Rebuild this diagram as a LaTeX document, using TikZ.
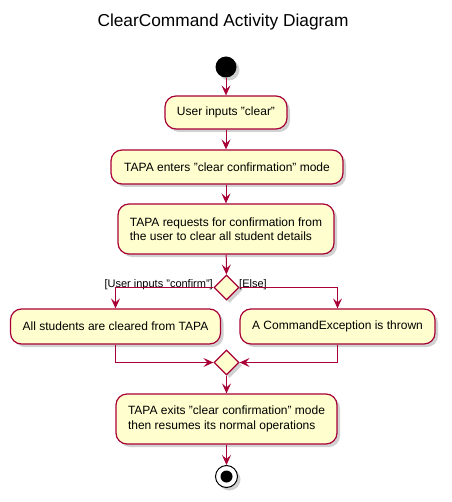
\documentclass[tikz,border=0pt]{standalone}
\usepackage{fontspec}
\setmainfont{Liberation Sans}
\usetikzlibrary{shapes.geometric,arrows.meta,shadows}
\definecolor{umlfill}{HTML}{FEFECE}
\definecolor{umlred}{HTML}{A80036}
\newcommand{\qt}{\char34\relax}
\begin{document}
\begin{tikzpicture}[x=1pt,y=-1pt,
  shad/.style={drop shadow={shadow xshift=3pt,shadow yshift=-3pt,opacity=0.3,fill=black!60}},
  act/.style={draw=umlred,line width=1.2pt,fill=umlfill,rounded corners=11pt,shad,
    inner sep=0pt,font=\fontsize{12}{14.5}\selectfont,align=left},
  dec/.style={diamond,draw=umlred,line width=1.2pt,fill=umlfill,shad,inner sep=0pt,
    minimum width=25pt,minimum height=25pt},
  arr/.style={draw=umlred,line width=1pt,-{Stealth[length=10pt,width=9pt,inset=4pt]}},
  lbl/.style={font=\fontsize{11}{13}\selectfont,inner sep=0pt}
]
\useasboundingbox (0,0) rectangle (451,502);
\node[font=\fontsize{17.3}{20}\selectfont] (title) at (223,22) {ClearCommand Activity Diagram};
\node[circle,fill=black,minimum size=21pt,inner sep=0pt,shad] (start) at (226,67) {};
\node[act,minimum width=122pt,minimum height=33pt] (b1) at (226,112.5) {User inputs \qt clear\qt};
\node[act,minimum width=232pt,minimum height=34pt] (b2) at (227,167) {TAPA enters \qt clear confirmation\qt\ mode};
\node[act,minimum width=216pt,minimum height=50pt] (b3) at (226,229) {TAPA requests for confirmation from\\the user to clear all student details};
\node[dec] (d1) at (226.5,287.5) {};
\node[act,minimum width=210pt,minimum height=35pt] (b4) at (115.5,326.5) {All students are cleared from TAPA};
\node[act,minimum width=195pt,minimum height=35pt] (b5) at (337.5,326.5) {A CommandException is thrown};
\node[dec] (d2) at (226.5,362.5) {};
\node[act,minimum width=221pt,minimum height=50pt] (b6) at (226.5,419) {TAPA exits \qt clear confirmation\qt\ mode\\then resumes its normal operations};
\node[circle,draw=black,line width=1pt,fill=white,minimum size=22pt,inner sep=0pt,shad] (end) at (226.5,476.5) {};
\node[circle,fill=black,minimum size=12pt,inner sep=0pt] (endin) at (end.center) {};
\node[lbl,anchor=south east] (l1) at (213,290) {[User inputs \qt confirm\qt]};
\node[lbl,anchor=south west] (l2) at (239,290) {[Else]};
\draw[arr] (start) -- (b1);
\draw[arr] (b1) -- (b2.north -| b1.south);
\draw[arr] (b2.south -| b3.north) -- (b3);
\draw[arr] (b3) -- (d1);
\draw[arr] (d1.west) -| (b4.north);
\draw[arr] (d1.east) -| (b5.north);
\draw[arr] (b4.south) |- (d2.west);
\draw[arr] (b5.south) |- (d2.east);
\draw[arr] (d2) -- (b6);
\draw[arr] (b6.south -| end.north) -- (end);
\end{tikzpicture}
\end{document}
